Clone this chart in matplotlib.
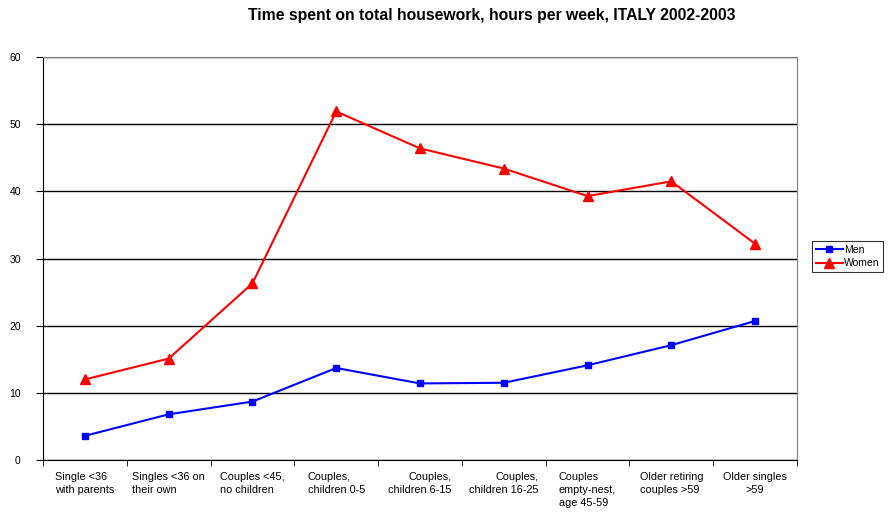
import matplotlib.pyplot as plt
import numpy as np

plt.rcParams['font.family'] = ['Liberation Sans', 'DejaVu Sans']

categories = ['Single <36\nwith parents', 'Singles <36 on\ntheir own', 'Couples <45,\nno children',
              'Couples,\nchildren 0-5', 'Couples,\nchildren 6-15', 'Couples,\nchildren 16-25',
              'Couples\nempty-nest,\nage 45-59', 'Older retiring\ncouples >59', 'Older singles\n>59']
men = [3.6, 6.8, 8.7, 13.7, 11.4, 11.5, 14.1, 17.1, 20.7]
women = [12.0, 15.1, 26.3, 51.9, 46.4, 43.4, 39.3, 41.5, 32.2]
label_align = ['left', 'left', 'left', 'left', 'right', 'right', 'left', 'left', 'center']

fig = plt.figure(figsize=(8.9, 5.19), dpi=100)
ax = fig.add_axes([0.0483, 0.1137, 0.8472, 0.7763])

x = np.arange(len(categories))
ax.plot(x, men, color='#0000ff', lw=1.5, marker='s', ms=4, label='Men')
ax.plot(x, women, color='#ff0000', lw=1.5, marker='^', ms=7, label='Women')

ax.set_xlim(-0.5, len(categories) - 0.5)
ax.set_ylim(0, 60)
ax.set_yticks(range(0, 61, 10))
ax.yaxis.grid(True, color='black', lw=1)
ax.set_axisbelow(True)

ax.set_xticks(x)
ax.set_xticklabels(categories, fontsize=7.8, linespacing=1.35)
for lab, al in zip(ax.get_xticklabels(), label_align):
    lab.set_multialignment(al)
ax.set_xticks(np.arange(-0.5, len(categories)), minor=True)
ax.tick_params(axis='x', which='major', length=0, pad=9)
ax.tick_params(axis='x', which='minor', length=4, direction='out', color='black')
ax.tick_params(axis='y', labelsize=7.5, length=5, direction='out', pad=11)

for s in ['top', 'right']:
    ax.spines[s].set_color('#808080')
for s in ['left', 'bottom']:
    ax.spines[s].set_color('black')

fig.text(0.552, 0.985, 'Time spent on total housework, hours per week, ITALY 2002-2003',
         ha='center', va='top', fontsize=11.3, fontweight='bold')

leg = fig.legend(loc='upper left', bbox_to_anchor=(812 / 890, 1 - 241 / 519), fontsize=7.5,
                 frameon=True, fancybox=False, edgecolor='black', borderpad=0.35,
                 borderaxespad=0, handlelength=2.6, handletextpad=0.1, labelspacing=0.35)
leg.get_frame().set_linewidth(0.8)

fig.savefig('out.png', dpi=100)
